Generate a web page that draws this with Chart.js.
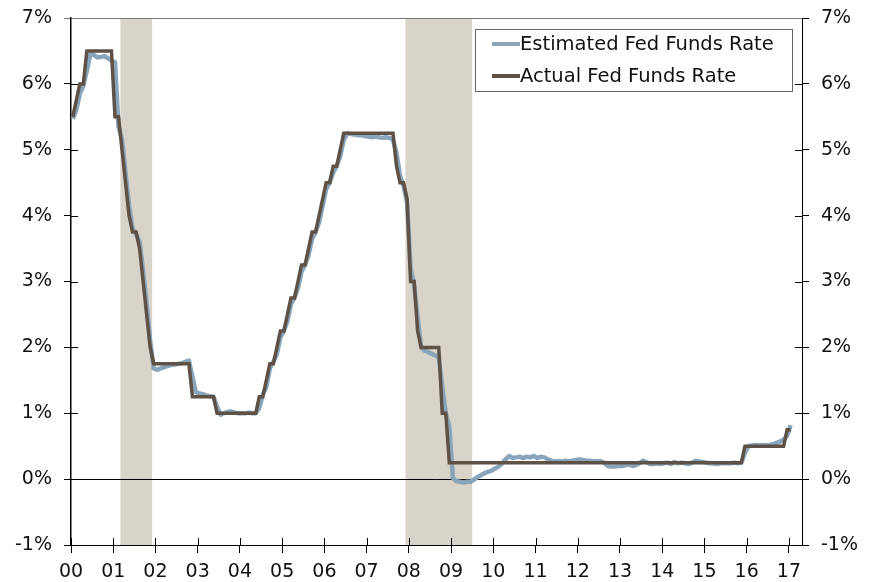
<!DOCTYPE html>
<html>
<head>
<meta charset="utf-8">
<script src="https://cdn.jsdelivr.net/npm/chart.js@4.4.0/dist/chart.umd.min.js"></script>
<style>
    html, body { margin: 0; padding: 0; background: #fff; }
    #wrap { width: 878px; height: 582px; position: relative; }
</style>
</head>
<body>
<div id="wrap"><canvas id="Fed_Chart"></canvas></div>
<script>
// monthly values, Jan 2000 .. Jan 2017
const actualRate = [
    5.5, 5.75, 6.0, 6.0, 6.5, 6.5, 6.5, 6.5, 6.5, 6.5, 6.5, 6.5,           // 2000
    5.5, 5.5, 5.0, 4.5, 4.0, 3.75, 3.75, 3.5, 3.0, 2.5, 2.0, 1.75,         // 2001
    1.75, 1.75, 1.75, 1.75, 1.75, 1.75, 1.75, 1.75, 1.75, 1.75, 1.25, 1.25, // 2002
    1.25, 1.25, 1.25, 1.25, 1.25, 1.0, 1.0, 1.0, 1.0, 1.0, 1.0, 1.0,      // 2003
    1.0, 1.0, 1.0, 1.0, 1.0, 1.25, 1.25, 1.5, 1.75, 1.75, 2.0, 2.25,      // 2004
    2.25, 2.5, 2.75, 2.75, 3.0, 3.25, 3.25, 3.5, 3.75, 3.75, 4.0, 4.25,   // 2005
    4.5, 4.5, 4.75, 4.75, 5.0, 5.25, 5.25, 5.25, 5.25, 5.25, 5.25, 5.25,  // 2006
    5.25, 5.25, 5.25, 5.25, 5.25, 5.25, 5.25, 5.25, 4.75, 4.5, 4.5, 4.25, // 2007
    3.0, 3.0, 2.25, 2.0, 2.0, 2.0, 2.0, 2.0, 2.0, 1.0, 1.0, 0.25,         // 2008
    0.25, 0.25, 0.25, 0.25, 0.25, 0.25, 0.25, 0.25, 0.25, 0.25, 0.25, 0.25, // 2009
    0.25, 0.25, 0.25, 0.25, 0.25, 0.25, 0.25, 0.25, 0.25, 0.25, 0.25, 0.25, // 2010
    0.25, 0.25, 0.25, 0.25, 0.25, 0.25, 0.25, 0.25, 0.25, 0.25, 0.25, 0.25, // 2011
    0.25, 0.25, 0.25, 0.25, 0.25, 0.25, 0.25, 0.25, 0.25, 0.25, 0.25, 0.25, // 2012
    0.25, 0.25, 0.25, 0.25, 0.25, 0.25, 0.25, 0.25, 0.25, 0.25, 0.25, 0.25, // 2013
    0.25, 0.25, 0.25, 0.25, 0.25, 0.25, 0.25, 0.25, 0.25, 0.25, 0.25, 0.25, // 2014
    0.25, 0.25, 0.25, 0.25, 0.25, 0.25, 0.25, 0.25, 0.25, 0.25, 0.25, 0.5,  // 2015
    0.5, 0.5, 0.5, 0.5, 0.5, 0.5, 0.5, 0.5, 0.5, 0.5, 0.5, 0.75,          // 2016
    0.75                                                                  // 2017
];

const estimatedRate = [
    5.47, 5.6, 5.85, 5.97, 6.2, 6.45, 6.44, 6.4, 6.41, 6.42, 6.39, 6.35,  // 2000
    6.33, 5.35, 5.15, 4.65, 4.15, 3.8, 3.72, 3.6, 3.15, 2.65, 2.1, 1.68,  // 2001
    1.66, 1.68, 1.7, 1.72, 1.73, 1.74, 1.75, 1.76, 1.78, 1.8, 1.55, 1.32, // 2002
    1.3, 1.29, 1.27, 1.26, 1.25, 1.1, 0.98, 1.0, 1.02, 1.03, 1.01, 1.0,   // 2003
    1.0, 1.0, 1.01, 1.0, 1.0, 1.08, 1.28, 1.4, 1.68, 1.78, 1.9, 2.15,     // 2004
    2.25, 2.4, 2.65, 2.75, 2.9, 3.15, 3.25, 3.4, 3.65, 3.75, 3.9, 4.15,   // 2005
    4.4, 4.5, 4.65, 4.75, 4.9, 5.15, 5.25, 5.24, 5.23, 5.22, 5.22, 5.21,  // 2006
    5.2, 5.19, 5.2, 5.19, 5.18, 5.19, 5.18, 5.15, 4.95, 4.6, 4.45, 4.2,   // 2007
    3.2, 2.95, 2.45, 2.0, 1.95, 1.93, 1.9, 1.88, 1.85, 1.4, 1.0, 0.8,     // 2008
    0.02, -0.03, -0.04, -0.05, -0.04, -0.04, -0.01, 0.03, 0.06, 0.09, 0.11, 0.13, // 2009
    0.16, 0.19, 0.24, 0.3, 0.35, 0.32, 0.33, 0.34, 0.32, 0.34, 0.33, 0.35, // 2010
    0.32, 0.34, 0.33, 0.3, 0.28, 0.27, 0.27, 0.27, 0.28, 0.27, 0.28, 0.29, // 2011
    0.3, 0.29, 0.28, 0.28, 0.27, 0.27, 0.27, 0.25, 0.2, 0.19, 0.19, 0.2,  // 2012
    0.2, 0.21, 0.22, 0.2, 0.21, 0.24, 0.28, 0.26, 0.23, 0.23, 0.24, 0.23, // 2013
    0.24, 0.25, 0.23, 0.26, 0.24, 0.25, 0.24, 0.23, 0.25, 0.28, 0.27, 0.26, // 2014
    0.25, 0.24, 0.24, 0.23, 0.24, 0.24, 0.24, 0.24, 0.25, 0.24, 0.25, 0.4,  // 2015
    0.5, 0.51, 0.52, 0.51, 0.52, 0.51, 0.52, 0.53, 0.55, 0.57, 0.6, 0.66,  // 2016
    0.82                                                                  // 2017
];

// years since 2000
const xTickLabels = ['00', '01', '02', '03', '04', '05', '06', '07', '08',
    '09', '10', '11', '12', '13', '14', '15', '16', '17'];
const yTickValues = [-1, 0, 1, 2, 3, 4, 5, 6, 7];

// recessions, in years since 2000
const recessionStart = [1.17, 7.92];
const recessionEnd = [1.92, 9.5];

const seriesLabels = ['Estimated Fed Funds Rate', 'Actual Fed Funds Rate'];
const seriesColors = ['#88a5bb', '#5e5145'];

const fontFamily = '"DejaVu Sans", Verdana, sans-serif';

// month i plotted at the middle of that month
function toPoints(values) {
    return values.map((v, i) => ({ x: (i + 0.5) / 12, y: v }));
}

function fitY(width) {
    return s => {
        s.width = width;
        s.paddingTop = 0;
        s.paddingBottom = 0;
    };
}

const recessionPlugin = {
    id: 'recessions',
    beforeDraw(chart) {
        const ctx = chart.ctx;
        const area = chart.chartArea;
        const xs = chart.scales.x;
        ctx.save();
        ctx.fillStyle = '#d8d4c9';
        for (let i = 0; i < recessionStart.length; i++) {
            const x0 = xs.getPixelForValue(recessionStart[i]);
            const x1 = xs.getPixelForValue(recessionEnd[i]);
            ctx.fillRect(x0, area.top, x1 - x0, area.bottom - area.top);
        }
        ctx.restore();
    }
};

// tick marks that cross the axis lines
const innerTicksPlugin = {
    id: 'innerTicks',
    afterDraw(chart) {
        const ctx = chart.ctx;
        const area = chart.chartArea;
        ctx.save();
        ctx.strokeStyle = '#000';
        ctx.lineWidth = 1;
        ctx.beginPath();
        yTickValues.forEach(v => {
            if (v === 7 || v === -1) return;
            const y = Math.round(chart.scales.y.getPixelForValue(v)) + 0.5;
            ctx.moveTo(area.left, y);
            ctx.lineTo(area.left + 7, y);
            ctx.moveTo(area.right, y);
            ctx.lineTo(area.right - 7, y);
        });
        xTickLabels.forEach((lab, i) => {
            const x = Math.round(chart.scales.x.getPixelForValue(i)) + 0.5;
            ctx.moveTo(x, area.bottom);
            ctx.lineTo(x, area.bottom - 7);
        });
        ctx.stroke();
        ctx.restore();
    }
};

const boxLegendPlugin = {
    id: 'boxLegend',
    afterDraw(chart) {
        const ctx = chart.ctx;
        const area = chart.chartArea;
        const w = 317, h = 62;
        const left = area.right - 10 - w;
        const top = area.top + 11;
        ctx.save();
        ctx.fillStyle = '#fff';
        ctx.fillRect(left, top, w, h);
        ctx.strokeStyle = '#666';
        ctx.lineWidth = 1;
        ctx.strokeRect(Math.round(left) + 0.5, Math.round(top) + 0.5, w, h);
        ctx.font = '19.5px ' + fontFamily;
        ctx.textBaseline = 'middle';
        ctx.fillStyle = '#111';
        seriesLabels.forEach((lab, i) => {
            const y = top + 15 + i * 32;
            ctx.strokeStyle = seriesColors[i];
            ctx.lineWidth = 4;
            ctx.beginPath();
            ctx.moveTo(left + 17, y);
            ctx.lineTo(left + 45, y);
            ctx.stroke();
            ctx.fillText(lab, left + 45, y + 1);
        });
        ctx.restore();
    }
};

const ctx = document.getElementById('Fed_Chart').getContext('2d');
new Chart(ctx, {
    type: 'line',
    data: {
        datasets: [
            {
                label: seriesLabels[1],
                data: toPoints(actualRate),
                borderColor: seriesColors[1],
                borderWidth: 3.5,
                pointRadius: 0,
                tension: 0,
                order: 0
            },
            {
                label: seriesLabels[0],
                data: toPoints(estimatedRate),
                borderColor: seriesColors[0],
                borderWidth: 4.5,
                borderJoinStyle: 'round',
                pointRadius: 0,
                tension: 0,
                order: 1
            }
        ]
    },
    options: {
        responsive: true,
        maintainAspectRatio: false,
        animation: false,
        devicePixelRatio: 1,
        layout: { padding: { top: 18 } },
        plugins: {
            legend: { display: false },
            tooltip: { enabled: false }
        },
        scales: {
            x: {
                type: 'linear',
                min: 0,
                max: 17.31,
                afterBuildTicks: s => { s.ticks = xTickLabels.map((l, i) => ({ value: i })); },
                afterFit: s => { s.height = 37; },
                grid: { drawOnChartArea: false, tickLength: 8, tickColor: '#000' },
                border: { color: '#000', width: 1 },
                ticks: {
                    callback: (v) => xTickLabels[v],
                    color: '#111',
                    padding: 8,
                    maxRotation: 0,
                    autoSkip: false,
                    font: { family: fontFamily, size: 19 }
                }
            },
            y: {
                position: 'left',
                min: -1,
                max: 7,
                afterBuildTicks: s => { s.ticks = yTickValues.map(v => ({ value: v })); },
                afterFit: fitY(71),
                grid: {
                    color: c => c.tick.value === 0 ? '#000' : (c.tick.value === 7 ? '#777' : 'rgba(0,0,0,0)'),
                    tickColor: c => c.tick.value === 7 ? '#777' : '#000',
                    tickLength: 7
                },
                border: { color: '#000', width: 1.5 },
                ticks: {
                    callback: v => v + '%',
                    color: '#111',
                    padding: 12,
                    font: { family: fontFamily, size: 19 }
                }
            },
            y2: {
                position: 'right',
                min: -1,
                max: 7,
                afterBuildTicks: s => { s.ticks = yTickValues.map(v => ({ value: v })); },
                afterFit: fitY(76),
                grid: { drawOnChartArea: false, tickLength: 7, tickColor: '#000' },
                border: { color: '#000', width: 1 },
                ticks: {
                    callback: v => v + '%',
                    color: '#111',
                    padding: 12,
                    font: { family: fontFamily, size: 19 }
                }
            }
        }
    },
    plugins: [recessionPlugin, innerTicksPlugin, boxLegendPlugin]
});
</script>
</body>
</html>
